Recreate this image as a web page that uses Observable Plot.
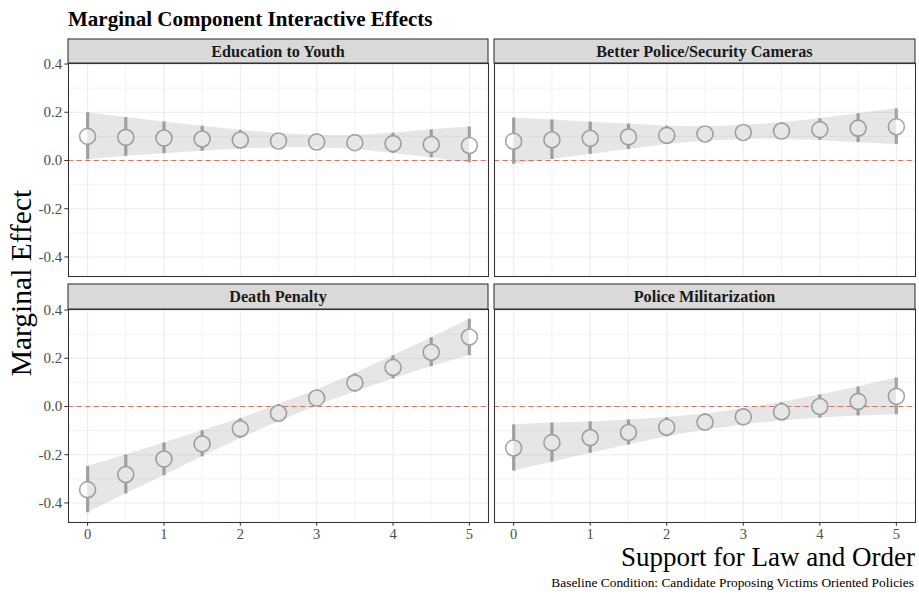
<!DOCTYPE html>
<html>
<head>
<meta charset="utf-8">
<script src="https://cdn.jsdelivr.net/npm/d3@7"></script>
<script src="https://cdn.jsdelivr.net/npm/@observablehq/plot@0.6"></script>
<style>
  body { margin: 0; background: #fff; }
  #chart { position: relative; width: 919px; height: 594px; font-family: "Liberation Serif", "DejaVu Serif", serif; overflow: hidden; }
  #chart svg { position: absolute; overflow: visible; }
  .txt { position: absolute; white-space: nowrap; line-height: 1; color: #000; }
</style>
</head>
<body>
<div id="chart"></div>
<script>
// Support for law and order (moderator values)
const support = [0, 0.5, 1, 1.5, 2, 2.5, 3, 3.5, 4, 4.5, 5];

// Panel (attribute level) names, in facet order
const panels = ["Education to Youth", "Better Police/Security Cameras", "Death Penalty", "Police Militarization"];

// Marginal effects with 95% interval bounds, one set per panel
const educationEst = [0.100, 0.096, 0.093, 0.089, 0.085, 0.081, 0.077, 0.074, 0.070, 0.066, 0.062];
const educationLo  = [0.003, 0.017, 0.028, 0.038, 0.048, 0.053, 0.053, 0.047, 0.029, 0.011, -0.010];
const educationHi  = [0.198, 0.178, 0.160, 0.142, 0.125, 0.112, 0.104, 0.104, 0.113, 0.127, 0.139];

const camerasEst = [0.080, 0.086, 0.092, 0.098, 0.104, 0.110, 0.116, 0.122, 0.128, 0.134, 0.140];
const camerasLo  = [-0.016, 0.004, 0.025, 0.045, 0.066, 0.080, 0.087, 0.088, 0.083, 0.074, 0.066];
const camerasHi  = [0.176, 0.168, 0.159, 0.151, 0.142, 0.140, 0.145, 0.156, 0.173, 0.194, 0.214];

const deathEst = [-0.345, -0.282, -0.218, -0.155, -0.092, -0.028, 0.035, 0.098, 0.162, 0.225, 0.288];
const deathLo  = [-0.441, -0.363, -0.287, -0.209, -0.133, -0.064, 0.002, 0.060, 0.114, 0.165, 0.211];
const deathHi  = [-0.249, -0.201, -0.151, -0.101, -0.051, 0.008, 0.068, 0.136, 0.210, 0.285, 0.362];

const militaryEst = [-0.172, -0.150, -0.129, -0.108, -0.086, -0.065, -0.043, -0.022, 0.000, 0.021, 0.042];
const militaryLo  = [-0.268, -0.231, -0.194, -0.160, -0.126, -0.099, -0.077, -0.060, -0.048, -0.039, -0.034];
const militaryHi  = [-0.076, -0.069, -0.064, -0.056, -0.046, -0.031, -0.009, 0.016, 0.048, 0.081, 0.118];

// Axis breaks
const yTicks = [-0.4, -0.2, 0, 0.2, 0.4];
const yMinor = [-0.3, -0.1, 0.1, 0.3];
const xTicks = [0, 1, 2, 3, 4, 5];
const xMinor = [0.5, 1.5, 2.5, 3.5, 4.5];

// Text
const titleText = "Marginal Component Interactive Effects";
const yTitle = "Marginal Effect";
const xTitle = "Support for Law and Order";
const captionText = "Baseline Condition: Candidate Proposing Victims Oriented Policies";

const series = [
  [educationEst, educationLo, educationHi],
  [camerasEst, camerasLo, camerasHi],
  [deathEst, deathLo, deathHi],
  [militaryEst, militaryLo, militaryHi]
];
const tables = series.map(([est, lo, hi]) =>
  support.map((x, i) => ({x, est: est[i], lo: lo[i], hi: hi[i]}))
);

// Shared y domain across facets, padded 5% like ggplot
const allLo = d3.min(tables.flat(), d => d.lo);
const allHi = d3.max(tables.flat(), d => d.hi);
const pad = (allHi - allLo) * 0.05;
const yDomain = [allLo - pad, allHi + pad];
const xDomain = [-0.25, 5.25];

const serif = `"Liberation Serif", "DejaVu Serif", serif`;
const gridColor = "#ebebeb";
const pointGray = "#a6a6a6";

// Strip with the facet label, drawn above the panel frame
function strip(label) {
  return (index, scales, values, dims) => {
    const g = d3.create("svg:g");
    const x0 = dims.marginLeft, x1 = dims.width - dims.marginRight;
    g.append("rect")
      .attr("x", x0).attr("y", 1)
      .attr("width", x1 - x0).attr("height", dims.marginTop - 1)
      .attr("fill", "#d9d9d9").attr("stroke", "#333").attr("stroke-width", 1.07);
    g.append("text")
      .attr("x", (x0 + x1) / 2).attr("y", 1 + (dims.marginTop - 1) / 2)
      .attr("text-anchor", "middle").attr("dy", "0.35em")
      .attr("font-family", serif).attr("font-weight", "bold").attr("font-size", 16.2)
      .attr("fill", "#1a1a1a")
      .text(label);
    return g.node();
  };
}

const layout = [
  {left: 0,   top: 38,  width: 489, height: 240, ml: 68, mr: 1, mt: 25, mb: 2,  showY: true,  showX: false},
  {left: 488, top: 38,  width: 431, height: 240, ml: 6,  mr: 4, mt: 25, mb: 2,  showY: false, showX: false},
  {left: 0,   top: 283, width: 489, height: 265, ml: 68, mr: 1, mt: 26, mb: 26, showY: true,  showX: true},
  {left: 488, top: 283, width: 431, height: 265, ml: 6,  mr: 4, mt: 26, mb: 26, showY: false, showX: true}
];

const chart = document.getElementById("chart");

panels.forEach((name, k) => {
  const L = layout[k];
  const rows = tables[k];
  const marks = [
    Plot.ruleY(yMinor, {stroke: gridColor, strokeWidth: 0.6}),
    Plot.ruleX(xMinor, {stroke: gridColor, strokeWidth: 0.6}),
    Plot.ruleY(yTicks, {stroke: gridColor, strokeWidth: 1.07}),
    Plot.ruleX(xTicks, {stroke: gridColor, strokeWidth: 1.07}),
    Plot.ruleY([0], {stroke: "#ee6f5c", strokeWidth: 1.07, strokeDasharray: "5,3.6"}),
    Plot.ruleX(rows, {x: "x", y1: "lo", y2: "hi", stroke: pointGray, strokeWidth: 3.2}),
    Plot.dot(rows, {x: "x", y: "est", r: 8, fill: "white", stroke: pointGray, strokeWidth: 1.6}),
    Plot.areaY(rows, {x: "x", y1: "lo", y2: "hi", fill: "#808080", fillOpacity: 0.2}),
    Plot.frame({stroke: "#333", strokeWidth: 1.07}),
    strip(name)
  ];
  if (L.showY) marks.push(Plot.axisY(yTicks, {
    tickSize: 3.7, tickPadding: 2.5, stroke: "#333", fill: "#4d4d4d",
    tickFormat: d => d.toFixed(1), label: null, fontSize: 15, fontFamily: serif
  }));
  if (L.showX) marks.push(Plot.axisX(xTicks, {
    tickSize: 3.7, tickPadding: 3, stroke: "#333", fill: "#4d4d4d",
    tickFormat: d => String(d), label: null, fontSize: 14.5, fontFamily: serif
  }));
  const svg = Plot.plot({
    width: L.width, height: L.height,
    marginLeft: L.ml, marginRight: L.mr, marginTop: L.mt, marginBottom: L.mb,
    x: {domain: xDomain, axis: null},
    y: {domain: yDomain, axis: null},
    style: {fontFamily: serif, background: "transparent", overflow: "visible"},
    marks
  });
  svg.style.left = L.left + "px";
  svg.style.top = L.top + "px";
  chart.appendChild(svg);
});

function addText(text, css) {
  const d = document.createElement("div");
  d.className = "txt";
  d.textContent = text;
  Object.assign(d.style, css);
  chart.appendChild(d);
  return d;
}

addText(titleText, {left: "68px", top: "8.5px", fontSize: "21px", fontWeight: "bold", color: "#000"});
addText(yTitle, {left: "22px", top: "283px", fontSize: "29.5px", transform: "translate(-50%, -50%) rotate(-90deg)"});
addText(xTitle, {right: "4px", top: "547px", fontSize: "27px", lineHeight: "0.75"});
addText(captionText, {right: "5px", top: "576px", fontSize: "13.4px"});
</script>
</body>
</html>
